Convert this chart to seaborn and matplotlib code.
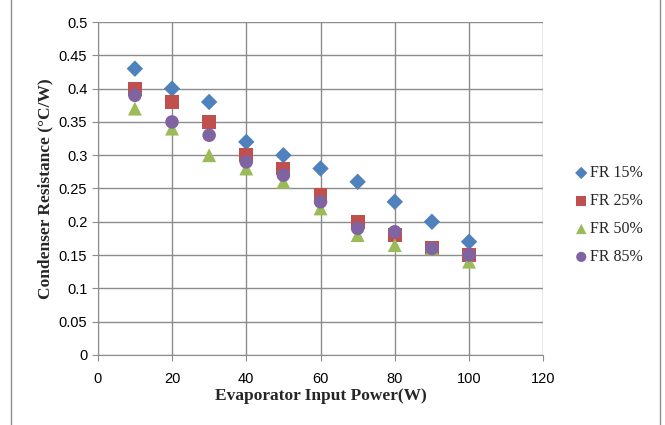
import matplotlib.pyplot as plt
import pandas as pd
import seaborn as sns

power = [10, 20, 30, 40, 50, 60, 70, 80, 90, 100]
fr15 = [0.43, 0.40, 0.38, 0.32, 0.30, 0.28, 0.26, 0.23, 0.20, 0.17]
fr25 = [0.40, 0.38, 0.35, 0.30, 0.28, 0.24, 0.20, 0.18, 0.16, 0.15]
fr50 = [0.37, 0.34, 0.30, 0.28, 0.26, 0.22, 0.18, 0.165, 0.16, 0.14]
fr85 = [0.39, 0.35, 0.33, 0.29, 0.27, 0.23, 0.19, 0.185, 0.16, 0.15]
series = ["FR 15%", "FR 25%", "FR 50%", "FR 85%"]

df = pd.DataFrame({
    "power": power * 4,
    "res": fr15 + fr25 + fr50 + fr85,
    "series": [s for s in series for _ in power],
})

sns.set_style("white")
plt.rcParams["font.family"] = ["Liberation Sans", "DejaVu Sans"]

fig = plt.figure(figsize=(6.65, 4.25), dpi=100)
ax = fig.add_axes([0.147, 0.165, 0.670, 0.783])

colors = ["#4F81BD", "#C0504D", "#9BBB59", "#8064A2"]
markers = ["D", "s", "^", "o"]
sizes = [70, 100, 100, 95]
for name, c, m, s in zip(series, colors, markers, sizes):
    sns.scatterplot(data=df[df["series"] == name], x="power", y="res",
                    color=c, marker=m, s=s, edgecolor="none", label=name,
                    ax=ax, zorder=3)

ax.set_xlim(0, 120)
ax.set_ylim(0, 0.5)
ax.set_xticks(range(0, 121, 20))
ax.set_yticks([i * 0.05 for i in range(11)])
ax.set_yticklabels(["0", "0.05", "0.1", "0.15", "0.2", "0.25", "0.3",
                    "0.35", "0.4", "0.45", "0.5"])
ax.grid(True, color="#8c8c8c", linewidth=1)
for side in ["top", "right"]:
    ax.spines[side].set_visible(False)
for side in ["left", "bottom"]:
    ax.spines[side].set_color("#8c8c8c")
ax.tick_params(labelsize=10.5, labelcolor="#000000", length=4,
               direction="out", left=True, bottom=True, color="#8c8c8c")
ax.tick_params(axis="x", pad=8)

ax.set_xlabel("Evaporator Input Power(W)", fontsize=12.5, fontweight="bold",
              family="Liberation Serif", labelpad=2)
ax.set_ylabel("Condenser Resistance (°C/W)", fontsize=12.5,
              fontweight="bold", family="Liberation Serif", labelpad=4)

leg = ax.legend(loc="center left", bbox_to_anchor=(1.035, 0.42),
                frameon=False, prop={"family": "Liberation Serif", "size": 11.5},
                labelspacing=0.75, handletextpad=0.05, handlelength=1.0,
                markerscale=0.75)

fig.patches.append(plt.Rectangle((0.016, -0.01), 0.977, 1.02,
                                 transform=fig.transFigure, fill=False,
                                 edgecolor="#8c8c8c", linewidth=1))

fig.savefig("out.png", dpi=100)
